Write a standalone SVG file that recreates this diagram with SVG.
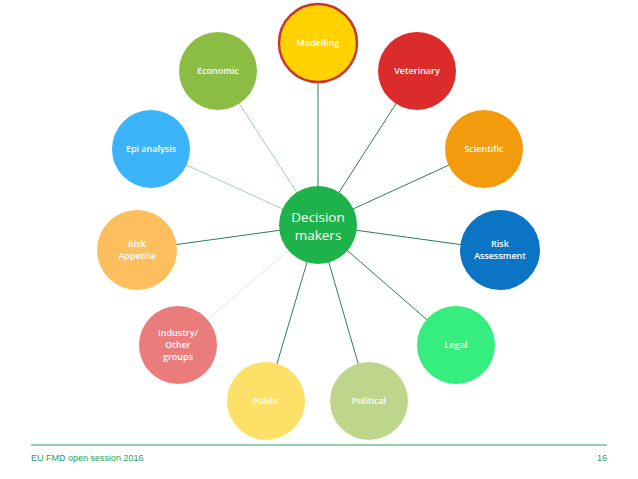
<svg xmlns="http://www.w3.org/2000/svg" width="638" height="479" viewBox="0 0 638 479">
<style>
.n text{font-family:"Open Sans","Liberation Sans",sans-serif;font-size:9px;font-weight:600;fill:#fff;text-anchor:middle}
.c line{stroke-width:1}
.d{stroke:#2a8055}
.l{stroke:#a8cfb8}
.v{stroke:#d8ece0}
.f{font-family:"Liberation Sans",sans-serif;font-size:9px;fill:#2ea05c}
</style>
<rect width="638" height="479" fill="#fff"/>
<g id="connectors" class="c">
<line class="d" x1="318" y1="225" x2="318" y2="43"/>
<line class="l" x1="318" y1="225" x2="218" y2="71"/>
<line class="d" x1="318" y1="225" x2="417" y2="71"/>
<line class="l" x1="318" y1="225" x2="151" y2="149"/>
<line class="d" x1="318" y1="225" x2="484" y2="149"/>
<line class="d" x1="318" y1="225" x2="137" y2="250"/>
<line class="d" x1="318" y1="225" x2="500" y2="250"/>
<line class="v" x1="318" y1="225" x2="178" y2="345"/>
<line class="d" x1="318" y1="225" x2="456" y2="345"/>
<line class="d" x1="318" y1="225" x2="266" y2="401"/>
<line class="d" x1="318" y1="225" x2="369" y2="401"/>
</g>
<g id="modelling" class="n"><circle cx="318" cy="43" r="39" fill="#ffd200" stroke="#c8372d" stroke-width="2.5"/><text x="318" y="46">Modelling</text></g>
<g id="economic" class="n"><circle cx="218" cy="71" r="39" fill="#8bbd45"/><text x="218" y="74">Economic</text></g>
<g id="veterinary" class="n"><circle cx="417" cy="71" r="39" fill="#dc2b2b"/><text x="417" y="74">Veterinary</text></g>
<g id="epi" class="n"><circle cx="151" cy="149" r="39" fill="#3cb4fa"/><text x="151" y="152">Epi analysis</text></g>
<g id="scientific" class="n"><circle cx="484" cy="149" r="39" fill="#f29b0c"/><text x="484" y="152">Scientific</text></g>
<g id="riskappetite" class="n"><circle cx="137" cy="250" r="40" fill="#fdbf5e"/><text x="137" y="247">Risk</text><text x="137" y="259">Appetite</text></g>
<g id="riskassessment" class="n"><circle cx="500" cy="250" r="40" fill="#0b74c4"/><text x="500" y="247">Risk</text><text x="500" y="259">Assessment</text></g>
<g id="industry" class="n"><circle cx="178" cy="345" r="39" fill="#eb7c7c"/><text x="178" y="336">Industry/</text><text x="178" y="348">Other</text><text x="178" y="360">groups</text></g>
<g id="legal" class="n"><circle cx="456" cy="345" r="39" fill="#36ed80"/><text x="456" y="348">Legal</text></g>
<g id="public" class="n"><circle cx="266" cy="401" r="39" fill="#fde067"/><text x="266" y="404">Public</text></g>
<g id="political" class="n"><circle cx="369" cy="401" r="39" fill="#bdd68c"/><text x="369" y="404">Political</text></g>
<g id="decision" class="n"><circle cx="318" cy="225" r="39" fill="#1db34a"/><text x="318" y="222" style="font-size:13.5px;font-weight:400">Decision</text><text x="318" y="240" style="font-size:13.5px;font-weight:400">makers</text></g>
<line x1="31" y1="445" x2="607" y2="445" stroke="#2ea05c" stroke-width="1.2"/>
<text class="f" x="31" y="461">EU FMD open session 2016</text>
<text class="f" x="607" y="461" text-anchor="end">16</text>
</svg>
